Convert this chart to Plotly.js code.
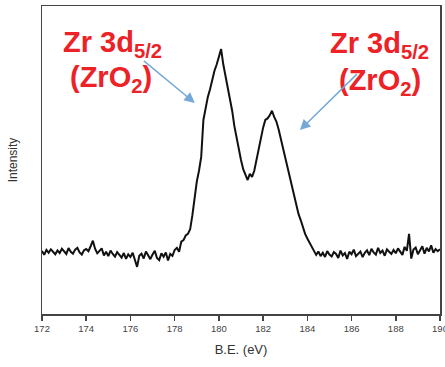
<!DOCTYPE html>
<html>
<head>
<meta charset="utf-8">
<script src="https://cdn.plot.ly/plotly-3.0.1.min.js"></script>
<style>html,body{margin:0;padding:0;background:#fff;}#chart{width:445px;height:367px;}</style>
</head>
<body>
<div id="chart"></div>
<script>
// Binding energy grid start/step (eV) and intensity values (arbitrary units)
const beStart = 172.0;
const beStep = 0.1;
const intensity = [
  20.5, 19.2, 20.8, 19.9, 21.0, 20.1, 19.4, 20.6, 19.8, 21.2,
  20.3, 19.5, 21.4, 20.2, 19.6, 20.9, 21.5, 20.0, 19.3, 20.7,
  21.1, 20.4, 22.0, 23.8, 21.2, 19.7, 20.5, 21.3, 19.0, 20.2,
  18.8, 20.6, 19.5, 18.6, 20.1, 19.2, 18.3, 19.8, 17.9, 19.4,
  18.5, 19.9, 17.6, 15.3, 18.9, 19.6, 18.0, 20.3, 19.1, 17.8,
  19.3, 20.5, 18.2, 17.5, 19.7, 18.6, 20.0, 17.4, 19.5, 18.9,
  20.8, 21.5, 20.2, 23.5, 24.0, 25.5, 26.0, 27.5, 32.0, 38.0,
  43.0, 46.5, 51.0, 63.0, 67.0, 70.5, 73.0, 76.5, 79.0, 81.0,
  83.5, 86.0, 81.0, 77.5, 73.5, 70.5, 66.0, 61.0, 57.0, 53.0,
  50.0, 47.0, 45.0, 43.5, 45.5, 44.5, 46.5, 50.0, 54.5, 58.0,
  60.5, 63.0, 63.5, 64.5, 66.0, 64.0, 62.5, 60.0, 57.0, 54.0,
  51.0, 47.5, 44.0, 41.0, 38.0, 35.0, 32.5, 30.5, 28.0, 26.0,
  24.5, 23.0, 21.5, 20.5, 19.2, 20.3, 18.8, 19.9, 18.5, 20.4,
  19.3, 18.7, 20.1, 19.5, 18.2, 20.6, 19.0, 19.8, 17.9, 20.2,
  19.4, 20.9, 18.8, 19.6, 20.3, 18.5, 19.9, 20.7, 19.1, 21.2,
  20.0, 19.3, 21.5, 19.8, 20.6, 18.9, 21.0, 20.2, 19.5, 20.8,
  19.7, 21.3, 20.4, 19.2, 21.8, 20.5, 26.0, 18.0, 20.9, 21.6,
  19.4, 20.8, 22.0, 19.6, 21.5, 20.3, 22.3, 19.9, 21.1, 20.4,
  21.0
];
const bindingEnergy = intensity.map((_, i) => +(beStart + i * beStep).toFixed(2));
const xTicks = [172, 174, 176, 178, 180, 182, 184, 186, 188, 190];
const labelLine1 = 'Zr 3d<sub>5/2</sub>';
const labelLine2 = '(ZrO<sub>2</sub>)';

const red = '#ec2227';
const blue = '#74a9d8';
const labelFont = {family: 'Liberation Sans, Arial, sans-serif', size: 29, color: red, weight: 'bold'};
const arrowFont = {size: 1, color: 'rgba(0,0,0,0)'};

const trace = {
  x: bindingEnergy, y: intensity, type: 'scatter', mode: 'lines',
  line: {color: '#111', width: 2}, hoverinfo: 'skip'
};

const layout = {
  width: 445, height: 367,
  margin: {l: 42, r: 5, t: 6, b: 53},
  paper_bgcolor: '#fff', plot_bgcolor: '#fff',
  showlegend: false,
  font: {family: 'Liberation Sans, Arial, sans-serif', color: '#333'},
  xaxis: {
    range: [172, 190], tickvals: xTicks, ticktext: xTicks.map(String),
    ticks: 'outside', ticklen: 5, tickwidth: 1.5, tickcolor: '#444',
    ticklabeloverflow: 'allow',
    showline: true, linecolor: '#444', linewidth: 1.5, mirror: true,
    showgrid: false, zeroline: false,
    tickfont: {size: 9.5, color: '#444'},
    title: {text: 'B.E. (eV)', font: {size: 13, color: '#333'}, standoff: 12}
  },
  yaxis: {
    range: [0, 100], showticklabels: false, ticks: '',
    showline: true, linecolor: '#444', linewidth: 1.5, mirror: true,
    showgrid: false, zeroline: false,
    title: {text: 'Intensity', font: {size: 12, color: '#333'}, standoff: 20}
  },
  annotations: [
    {xref: 'paper', yref: 'paper', x: 0.176, y: 0.878, text: labelLine1, showarrow: false, xanchor: 'center', yanchor: 'middle', font: labelFont},
    {xref: 'paper', yref: 'paper', x: 0.173, y: 0.762, text: labelLine2, showarrow: false, xanchor: 'center', yanchor: 'middle', font: labelFont},
    {xref: 'paper', yref: 'paper', x: 0.849, y: 0.872, text: labelLine1, showarrow: false, xanchor: 'center', yanchor: 'middle', font: labelFont},
    {xref: 'paper', yref: 'paper', x: 0.849, y: 0.752, text: labelLine2, showarrow: false, xanchor: 'center', yanchor: 'middle', font: labelFont},
    {xref: 'paper', yref: 'paper', x: 0.384, y: 0.685, text: '.', font: arrowFont, borderpad: 0, showarrow: true, ax: -52, ay: -43, arrowhead: 2, arrowsize: 1.4, arrowwidth: 1.5, arrowcolor: blue},
    {xref: 'paper', yref: 'paper', x: 0.648, y: 0.597, text: '.', font: arrowFont, borderpad: 0, showarrow: true, ax: 58, ay: -57, arrowhead: 2, arrowsize: 1.4, arrowwidth: 1.5, arrowcolor: blue}
  ]
};

Plotly.newPlot('chart', [trace], layout, {staticPlot: true, displayModeBar: false});
</script>
</body>
</html>
